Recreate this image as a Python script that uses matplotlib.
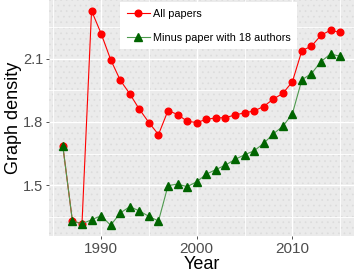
import matplotlib

matplotlib.use("Agg")
import matplotlib.pyplot as plt
from matplotlib.patches import Rectangle
from matplotlib.ticker import MultipleLocator

plt.rcParams["font.family"] = ["Liberation Sans", "DejaVu Sans"]
plt.rcParams["hatch.linewidth"] = 0.5

years = list(range(1986, 2016))
all_papers = [1.684, 1.330, 1.317, 2.327, 2.219, 2.095, 1.998, 1.933, 1.860, 1.797,
              1.740, 1.854, 1.835, 1.803, 1.797, 1.812, 1.819, 1.820, 1.833, 1.843,
              1.852, 1.873, 1.908, 1.935, 1.990, 2.138, 2.159, 2.211, 2.235, 2.224]
minus_18 = [1.684, 1.330, 1.317, 1.336, 1.355, 1.310, 1.368, 1.398, 1.378, 1.352,
            1.330, 1.498, 1.505, 1.493, 1.516, 1.552, 1.574, 1.595, 1.622, 1.644,
            1.663, 1.698, 1.743, 1.779, 1.838, 2.000, 2.029, 2.086, 2.122, 2.111]
labels = ["All papers", "Minus paper with 18 authors"]

fig = plt.figure(figsize=(3.56, 2.73), dpi=100)
ax = fig.add_axes([49 / 356, 1 - 236 / 273, 305 / 356, 236 / 273])
ax.set_facecolor("#EBEBEB")
ax.add_patch(Rectangle((0, 0), 1, 1, transform=ax.transAxes, facecolor="none",
                       edgecolor="#DCDCDC", hatch="...", linewidth=0, zorder=0))

ax.plot(years, all_papers, color="#FF0000", lw=0.8, marker="o", ms=4.8,
        mec="#FF0000", mfc="#FF0000", label=labels[0], zorder=3)
ax.plot(years, minus_18, color="#4E9A4E", lw=0.8, marker="^", ms=5.8,
        mec="#006400", mfc="#006400", label=labels[1], zorder=4)

ax.set_xlim(1984.55, 2016.45)
ax.set_ylim(1.259, 2.378)
ax.xaxis.set_major_locator(MultipleLocator(10))
ax.xaxis.set_minor_locator(MultipleLocator(5))
ax.set_yticks([1.5, 1.8, 2.1])
ax.set_yticks([1.35, 1.65, 1.95, 2.25], minor=True)
ax.set_yticklabels(["1.5", "1.8", "2.1"])
ax.grid(which="major", color="white", lw=1.0, zorder=1)
ax.grid(which="minor", color="white", lw=0.6, zorder=1)
ax.set_axisbelow(True)
for s in ax.spines.values():
    s.set_visible(False)
ax.tick_params(which="major", length=2.5, width=0.6, color="#333333",
               labelcolor="#4D4D4D", pad=1.5)
ax.tick_params(which="minor", length=0)
ax.tick_params(axis="x", labelsize=11)
ax.tick_params(axis="y", labelsize=10.5)

ax.set_xlabel("Year", fontsize=13, labelpad=0)
ax.set_ylabel("Graph density", fontsize=13, labelpad=1)

leg = ax.legend(loc="upper left", bbox_to_anchor=(0.233, 0.99), fontsize=7.8,
                frameon=True, fancybox=False, framealpha=1, edgecolor="white",
                handlelength=2.2, labelspacing=1.3, borderpad=0.6,
                handletextpad=0.25, borderaxespad=0)
leg.get_frame().set_linewidth(0)

fig.savefig("out.png", dpi=100)
